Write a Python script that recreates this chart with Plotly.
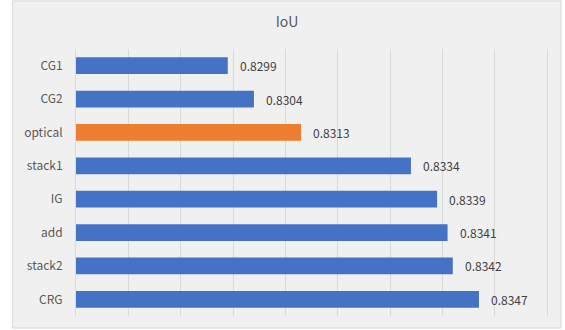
import plotly.graph_objects as go

categories = ["CG1", "CG2", "optical", "stack1", "IG", "add", "stack2", "CRG"]
values = [0.8299, 0.8304, 0.8313, 0.8334, 0.8339, 0.8341, 0.8342, 0.8347]
colors = ["#4472C4", "#4472C4", "#ED7D31", "#4472C4", "#4472C4", "#4472C4", "#4472C4", "#4472C4"]
value_labels = ["0.8299", "0.8304", "0.8313", "0.8334", "0.8339", "0.8341", "0.8342", "0.8347"]
title_text = "IoU"

FONT = "Noto Sans CJK SC, Open Sans, sans-serif"

fig = go.Figure(go.Bar(
    x=values, y=categories, orientation="h",
    marker=dict(color=colors, line=dict(width=0)),
    hoverinfo="skip",
))

for v, c, t in zip(values, categories, value_labels):
    fig.add_annotation(x=v, y=c, text=t, showarrow=False, xanchor="left",
                       xshift=10, font=dict(size=12, color="#404040", family=FONT))

W, H = 565, 330
ml, mr, mt, mb = 76, 18, 49, 14
pw, ph = W - ml - mr, H - mt - mb

def px_x(p):
    return (p - ml) / pw

def px_y(p):
    return (H - mb - p) / ph

# white outside strips, then the frame border
for x0, x1, y0, y1 in [(-5, 12, -5, 335), (561.5, 570, -5, 335), (-5, 570, 328.5, 335), (-5, 570, -5, 0.5)]:
    fig.add_shape(type="rect", xref="paper", yref="paper",
                  x0=px_x(x0), x1=px_x(x1), y0=px_y(y1), y1=px_y(y0),
                  fillcolor="white", line=dict(width=0), layer="above")
fig.add_shape(type="rect", xref="paper", yref="paper",
              x0=px_x(12.5), x1=px_x(561), y0=px_y(328), y1=px_y(1),
              fillcolor="rgba(0,0,0,0)", line=dict(color="#D9D9D9", width=1), layer="above")

fig.update_layout(
    width=W, height=H,
    margin=dict(l=ml, r=mr, t=mt, b=mb),
    paper_bgcolor="#F0F0F0", plot_bgcolor="rgba(0,0,0,0)",
    bargap=0.5, showlegend=False,
    title=dict(text=title_text, x=287 / W, xanchor="center", xref="container",
               y=1 - 22 / H, yanchor="middle",
               font=dict(size=14, color="#595959", family=FONT)),
    font=dict(family=FONT),
)
fig.update_xaxes(range=[0.827, 0.836], dtick=0.001, tick0=0.827, showticklabels=False,
                 showgrid=True, gridcolor="#D9D9D9", gridwidth=1, zeroline=False, fixedrange=True)
fig.update_yaxes(autorange="reversed", showgrid=False, showline=True, mirror=True,
                 linecolor="#D9D9D9", ticks="", ticklabelstandoff=10,
                 tickfont=dict(size=12, color="#595959", family=FONT), fixedrange=True)

fig.write_html("out.html", config={"displayModeBar": False})
